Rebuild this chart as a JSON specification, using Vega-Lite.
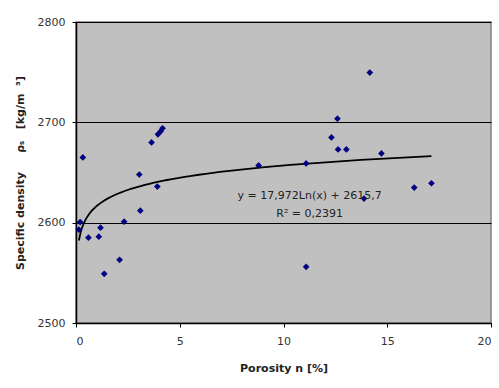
{
  "$schema": "https://vega.github.io/schema/vega-lite/v6.json",
  "width": 415,
  "height": 301,
  "autosize": {"type": "none"},
  "padding": {"left": 76, "top": 22, "right": 8, "bottom": 65},
  "background": "white",
  "config": {
    "view": {"fill": "#c0c0c0", "stroke": "#808080", "strokeWidth": 1.5},
    "font": "DejaVu Sans"
  },
  "data": {
    "values": [
      {"n": 0.33, "rho": 2665},
      {"n": 0.2, "rho": 2600.6},
      {"n": 0.14, "rho": 2593},
      {"n": 0.6, "rho": 2585},
      {"n": 1.1, "rho": 2586},
      {"n": 1.18, "rho": 2595},
      {"n": 1.36, "rho": 2549},
      {"n": 2.1, "rho": 2563},
      {"n": 2.32, "rho": 2601},
      {"n": 3.05, "rho": 2648},
      {"n": 3.1, "rho": 2612},
      {"n": 3.64, "rho": 2680},
      {"n": 3.92, "rho": 2636},
      {"n": 3.95, "rho": 2688},
      {"n": 4.08, "rho": 2691},
      {"n": 4.17, "rho": 2694},
      {"n": 14.16, "rho": 2749.6},
      {"n": 12.6, "rho": 2703.6},
      {"n": 12.31, "rho": 2685},
      {"n": 12.63, "rho": 2673},
      {"n": 13.03, "rho": 2673},
      {"n": 14.72, "rho": 2669},
      {"n": 8.8, "rho": 2657},
      {"n": 11.09, "rho": 2659},
      {"n": 16.3, "rho": 2635},
      {"n": 17.13, "rho": 2639.3},
      {"n": 13.88, "rho": 2624},
      {"n": 11.09, "rho": 2556}
    ]
  },
  "encoding": {
    "x": {
      "field": "n", "type": "quantitative",
      "scale": {"domain": [0, 20], "nice": false},
      "axis": {
        "title": "Porosity n [%]", "values": [0, 5, 10, 15, 20], "format": "d",
        "grid": false, "domainColor": "black", "domainWidth": 1.5,
        "tickColor": "black", "tickSize": 4, "labelPadding": 8,
        "labelFontSize": 11, "labelColor": "#333", "labelFont": "DejaVu Sans",
        "titleFontSize": 11, "titleFont": "DejaVu Sans", "titleFontWeight": "bold",
        "titleColor": "#222", "titlePadding": 16
      }
    },
    "y": {
      "field": "rho", "type": "quantitative",
      "scale": {"domain": [2500, 2800], "nice": false, "zero": false},
      "axis": {
        "title": "Specific density\u00a0\u00a0\u00a0\u00a0\u00a0ρₛ\u00a0\u00a0\u00a0[kg/m\u00a0\u00a0³]", "values": [2500, 2600, 2700, 2800], "format": "d",
        "grid": true, "gridColor": "black", "gridOpacity": 1, "gridWidth": 1,
        "domainColor": "black", "domainWidth": 1.5,
        "tickColor": "black", "tickSize": 4, "labelPadding": 7,
        "labelFontSize": 11, "labelColor": "#333", "labelFont": "DejaVu Sans",
        "titleFontSize": 11, "titleFont": "DejaVu Sans", "titleFontWeight": "bold",
        "titleColor": "#222", "titlePadding": 12
      }
    }
  },
  "layer": [
    {
      "mark": {"type": "line", "color": "black", "strokeWidth": 1.8},
      "transform": [{"regression": "rho", "on": "n", "method": "log"}]
    },
    {
      "mark": {"type": "point", "shape": "diamond", "filled": true, "color": "#000080", "size": 45, "opacity": 1}
    },
    {
      "data": {"values": [
        {"tx": 11.26, "ty": 2627, "label": "y = 17,972Ln(x) + 2615,7"},
        {"tx": 11.26, "ty": 2609, "label": "R² = 0,2391"}
      ]},
      "mark": {"type": "text", "fontSize": 11, "color": "#222", "align": "center", "baseline": "middle"},
      "encoding": {
        "x": {"field": "tx", "type": "quantitative"},
        "y": {"field": "ty", "type": "quantitative"},
        "text": {"field": "label"}
      }
    }
  ]
}
